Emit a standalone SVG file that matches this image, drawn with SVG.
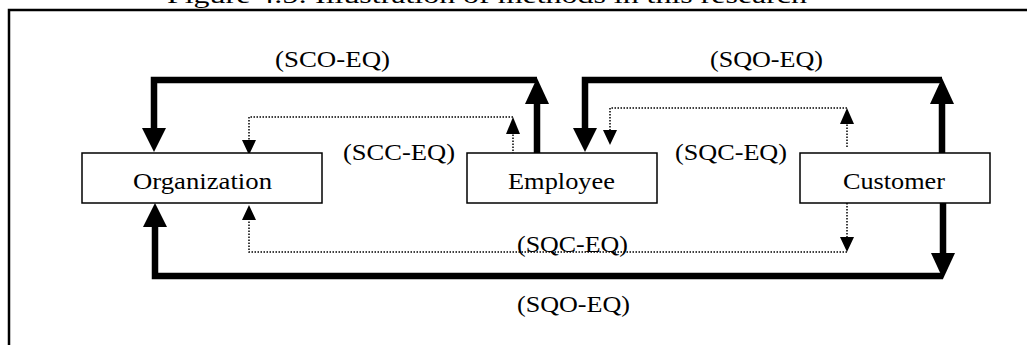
<svg xmlns="http://www.w3.org/2000/svg" width="1027" height="345" viewBox="0 0 1027 345" font-family="'Liberation Serif', 'Times New Roman', Times, serif">
<defs>
<style>
text{font-family:'Liberation Serif','Times New Roman',Times,serif;font-size:24px;fill:#000}
.box{fill:#fff;stroke:#000;stroke-width:1.5}
.thick{fill:none;stroke:#000;stroke-width:6.5;stroke-linejoin:miter}
.dot{fill:none;stroke:#000;stroke-width:1.5;stroke-dasharray:1.5 1.5}
.ah{fill:#000}
</style>
</defs>
<rect width="1027" height="345" fill="#fff"/>
<text x="167" y="3" font-size="28" textLength="640" lengthAdjust="spacingAndGlyphs">Figure 4.5: Illustration of methods in this research</text>
<path d="M9,347 V10 H1030" fill="none" stroke="#000" stroke-width="2.5"/>
<g id="connectors">
<g id="sco-eq">
<path class="thick" d="M537,154 V100 M537,80 H154 V130"/>
<polygon class="ah" points="525,104 549,104 537,78"/>
<polygon class="ah" points="142,128 166,128 154,152"/>
</g>
<g id="sqo-eq-top">
<path class="thick" d="M942,154 V100 M942,80 H585 V130"/>
<polygon class="ah" points="930,104 954,104 942,78"/>
<polygon class="ah" points="573,128 597,128 585,152"/>
</g>
<g id="sqo-eq-bottom">
<path class="thick" d="M943,203 V255 M943,276 H155 V225"/>
<polygon class="ah" points="931,253 955,253 943,279"/>
<polygon class="ah" points="143,227 167,227 155,203"/>
</g>
<g id="scc-eq">
<path class="dot" d="M513,154 V132 M513,117 H249 V142"/>
<polygon class="ah" points="506,134 520,134 513,117"/>
<polygon class="ah" points="242,140 256,140 249,155"/>
</g>
<g id="sqc-eq-top">
<path class="dot" d="M847,147 V122 M847,108 H610 V131"/>
<polygon class="ah" points="840,124 854,124 847,108"/>
<polygon class="ah" points="603,130 617,130 610,145"/>
</g>
<g id="sqc-eq-bottom">
<path class="dot" d="M847,203 V238 M847,252 H249 V219"/>
<polygon class="ah" points="840,237 854,237 847,252"/>
<polygon class="ah" points="242,220 256,220 249,205"/>
</g>
</g>
<g id="organization">
<rect class="box" x="82" y="153" width="240" height="50"/>
<text x="133" y="189" textLength="139" lengthAdjust="spacingAndGlyphs">Organization</text>
</g>
<g id="employee">
<rect class="box" x="467" y="153" width="190" height="50"/>
<text x="508" y="189" textLength="107" lengthAdjust="spacingAndGlyphs">Employee</text>
</g>
<g id="customer">
<rect class="box" x="800" y="153" width="190" height="50"/>
<text x="843" y="189" textLength="102" lengthAdjust="spacingAndGlyphs">Customer</text>
</g>
<g id="labels">
<text x="275" y="67" textLength="115" lengthAdjust="spacingAndGlyphs">(SCO-EQ)</text>
<text x="343" y="160" textLength="112" lengthAdjust="spacingAndGlyphs">(SCC-EQ)</text>
<text x="710" y="67" textLength="113" lengthAdjust="spacingAndGlyphs">(SQO-EQ)</text>
<text x="675" y="160" textLength="112" lengthAdjust="spacingAndGlyphs">(SQC-EQ)</text>
<text x="517" y="252" textLength="111" lengthAdjust="spacingAndGlyphs">(SQC-EQ)</text>
<text x="517" y="312" textLength="113" lengthAdjust="spacingAndGlyphs">(SQO-EQ)</text>
</g>
</svg>
